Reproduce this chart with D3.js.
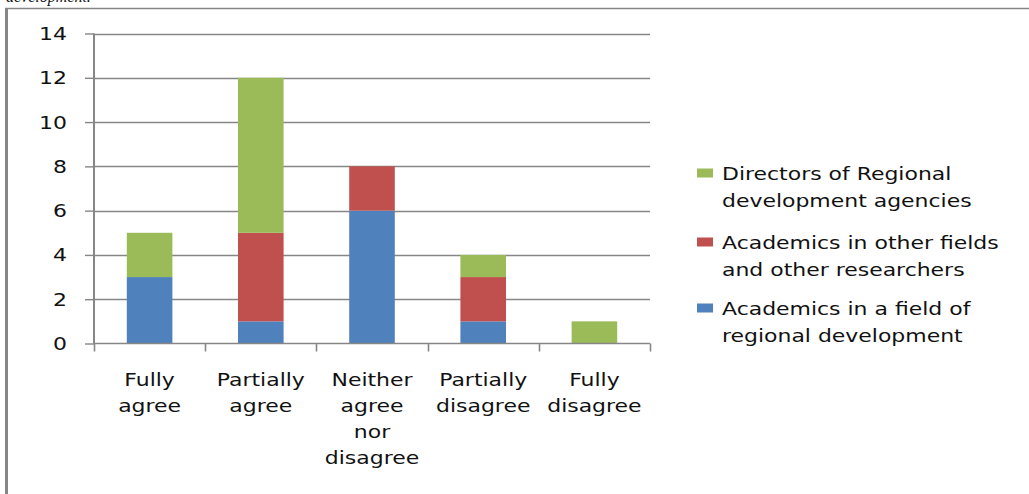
<!DOCTYPE html>
<html>
<head>
<meta charset="utf-8">
<script src="https://cdn.jsdelivr.net/npm/d3@7"></script>
<style>
  html, body { margin: 0; padding: 0; background: #fff; }
  svg { display: block; }
  text { font-family: "DejaVu Sans", "Open Sans", sans-serif; fill: #111; }
</style>
</head>
<body>
<svg id="chart" width="1029" height="494"></svg>
<script>
// Survey answers per respondent group
const categories = [
  ["Fully", "agree"],
  ["Partially", "agree"],
  ["Neither", "agree", "nor", "disagree"],
  ["Partially", "disagree"],
  ["Fully", "disagree"]
];
const seriesNames = [
  "Academics in a field of regional development",
  "Academics in other fields and other researchers",
  "Directors of Regional development agencies"
];
const seriesLegendLines = [
  ["Academics in a field of", "regional development"],
  ["Academics in other fields", "and other researchers"],
  ["Directors of Regional", "development agencies"]
];
const academicsRegional = [3, 1, 6, 1, 0];
const academicsOther    = [0, 4, 2, 2, 0];
const directorsRDA      = [2, 7, 0, 1, 1];
const seriesColors = ["#4F81BD", "#C0504D", "#9BBB59"];
const yTicks = [0, 2, 4, 6, 8, 10, 12, 14];

const svg = d3.select("#chart");
const grey = "#868686";
const sx = 1.22; // horizontal stretch applied to all labels

// frame of the figure
svg.append("line").attr("x1", 5).attr("x2", 1029).attr("y1", 8.5).attr("y2", 8.5)
  .attr("stroke", grey).attr("stroke-width", 1.5);
svg.append("line").attr("x1", 6.5).attr("x2", 6.5).attr("y1", 8).attr("y2", 494)
  .attr("stroke", grey).attr("stroke-width", 3);

// caption line running above the frame
svg.append("text").attr("x", 6).attr("y", 2)
  .style("font-family", "'Liberation Serif', serif").style("font-style", "italic")
  .style("font-size", "16px").text("development.");

const keys = categories.map((c, i) => "c" + i);
const rows = keys.map((k, i) => ({
  key: k,
  s0: academicsRegional[i],
  s1: academicsOther[i],
  s2: directorsRDA[i]
}));
const stack = d3.stack().keys(["s0", "s1", "s2"]);
const layers = stack(rows);

const x = d3.scaleBand().domain(keys).range([94, 650])
  .paddingInner(0.59).paddingOuter(0.295);
const step = x.step();
const y = d3.scaleLinear().domain([0, 14]).range([343.5, 33.5]);

// horizontal gridlines
svg.append("g").selectAll("line").data(yTicks.filter(t => t > 0)).join("line")
  .attr("x1", 94).attr("x2", 650)
  .attr("y1", d => Math.round(y(d)) + 0.5).attr("y2", d => Math.round(y(d)) + 0.5)
  .attr("stroke", grey).attr("stroke-width", 1.4);

// stacked bars
svg.append("g").selectAll("g").data(layers).join("g")
  .attr("fill", (d, i) => seriesColors[i])
  .selectAll("rect").data(d => d).join("rect")
  .attr("x", d => x(d.data.key))
  .attr("width", x.bandwidth())
  .attr("y", d => y(d[1]))
  .attr("height", d => y(d[0]) - y(d[1]));

// value axis
const yAxis = d3.axisLeft(y).tickValues(yTicks).tickSize(9).tickFormat("");
const yg = svg.append("g").attr("transform", "translate(94,0)").call(yAxis);
yg.select(".domain").attr("stroke", grey).attr("stroke-width", 2).attr("d", "M0," + y(14) + "V" + y(0));
yg.selectAll(".tick line").attr("stroke", grey).attr("stroke-width", 1.4);

yTicks.forEach(t => {
  svg.append("text")
    .attr("transform", `translate(67,${y(t) + 6.5}) scale(${sx},1)`)
    .attr("text-anchor", "end")
    .style("font-size", "18px")
    .text(t);
});

// category axis
const bounds = keys.map(k => x(k) - x.step() * x.paddingInner() / 2);
bounds.push(650);
svg.append("line").attr("x1", 94).attr("x2", 650).attr("y1", y(0)).attr("y2", y(0))
  .attr("stroke", grey).attr("stroke-width", 1.6);
svg.append("g").selectAll("line").data(bounds).join("line")
  .attr("x1", d => Math.round(d) + 0.5).attr("x2", d => Math.round(d) + 0.5)
  .attr("y1", y(0)).attr("y2", y(0) + 8)
  .attr("stroke", grey).attr("stroke-width", 1.6);

categories.forEach((lines, i) => {
  const cx = x(keys[i]) + x.bandwidth() / 2;
  lines.forEach((ln, j) => {
    svg.append("text")
      .attr("transform", `translate(${cx},${386 + j * 26}) scale(${sx},1)`)
      .attr("text-anchor", "middle")
      .style("font-size", "18px")
      .text(ln);
  });
});

// legend, top entry is the last series
const legendY = [173, 242, 308];
[2, 1, 0].forEach((s, idx) => {
  const cy = legendY[idx];
  svg.append("rect").attr("x", 697).attr("y", cy - 4.5).attr("width", 16).attr("height", 9)
    .attr("fill", seriesColors[s]);
  seriesLegendLines[s].forEach((ln, j) => {
    svg.append("text")
      .attr("transform", `translate(722,${cy + 6.5 + j * 27}) scale(${sx},1)`)
      .style("font-size", "18px")
      .text(ln);
  });
});
</script>
</body>
</html>
